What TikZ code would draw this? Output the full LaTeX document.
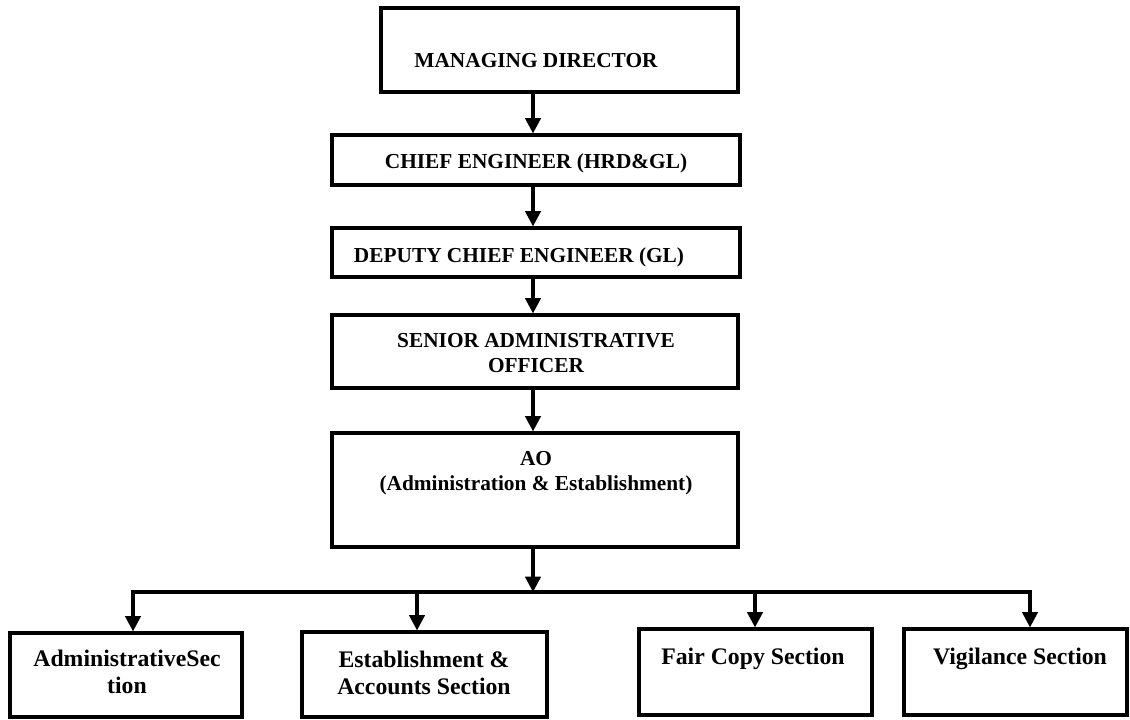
\documentclass[tikz,border=0pt]{standalone}
\usepackage{fontspec}
\setmainfont{Liberation Serif}
\usepackage{tikz}
\usetikzlibrary{arrows.meta}

\begin{document}
\begin{tikzpicture}
        [x=0.75pt,y=-0.75pt,
         box/.style={draw,line width=2.4pt,fill=white,rectangle,inner sep=0pt},
         lbl/.style={anchor=base,align=center,inner sep=0pt,
           font=\fontsize{16}{18.5}\selectfont\bfseries},
         lblb/.style={anchor=base,align=center,inner sep=0pt,
           font=\fontsize{17.8}{20}\selectfont\bfseries},
         arr/.style={line width=2.4pt,-{Triangle[length=11.5pt,width=11.5pt]}}]
        \useasboundingbox (0,0) rectangle (1130,719);

        \node[box,minimum width=357*0.75pt,minimum height=84*0.75pt] (md) at (559.5,50) {};
        \node[box,minimum width=408*0.75pt,minimum height=50*0.75pt] (ce) at (536,160) {};
        \node[box,minimum width=408*0.75pt,minimum height=49*0.75pt] (dce) at (536,252.5) {};
        \node[box,minimum width=406*0.75pt,minimum height=73*0.75pt] (sao) at (535,351.5) {};
        \node[box,minimum width=406*0.75pt,minimum height=114*0.75pt] (ao) at (535,490) {};

        \node[box,minimum width=232*0.75pt,minimum height=84*0.75pt] (adm) at (126,675) {};
        \node[box,minimum width=245*0.75pt,minimum height=85*0.75pt] (est) at (424.5,674.5) {};
        \node[box,minimum width=233*0.75pt,minimum height=86*0.75pt] (fcs) at (755.5,672) {};
        \node[box,minimum width=223*0.75pt,minimum height=86*0.75pt] (vig) at (1015.5,672) {};

        % texts (base = last line)
        \node[lbl] (mdtext) at (536,67) {MANAGING DIRECTOR};
        \node[lbl] (cetext) at (536,168) {CHIEF ENGINEER (HRD\&GL)};
        \node[lbl] (dcetext) at (519,262) {DEPUTY CHIEF ENGINEER (GL)};
        \node[lbl] (saotext) at (536,372) {SENIOR ADMINISTRATIVE\\OFFICER};
        \node[lbl] (aotext) at (536,490) {AO\\(Administration \& Establishment)};

        \node[lblb] (admtext) at (127,693) {AdministrativeSec\\tion};
        \node[lblb] (esttext) at (424,694) {Establishment \&\\Accounts Section};
        \node[lblb] (fcstext) at (753,664) {Fair Copy Section};
        \node[lblb] (vigtext) at (1020,664) {Vigilance Section};

        \coordinate (spine) at (533,0);
        \coordinate (bus) at (533,592);
        \coordinate (t1) at (133,592);
        \coordinate (t2) at (417,592);
        \coordinate (t3) at (755,592);
        \coordinate (t4) at (1030,592);

        \foreach \from/\to in {md/ce, ce/dce, dce/sao, sao/ao}
            \draw[arr] (\from.south -| spine) -- (\to.north -| spine);

        \draw[arr] (ao.south -| bus) -- (bus);
        \draw[arr] (bus) -- (t1) -- (t1 |- adm.north);
        \draw[arr] (bus) -- (t4) -- (t4 |- vig.north);
        \draw[arr] (t2) -- (t2 |- est.north);
        \draw[arr] (t3) -- (t3 |- fcs.north);

      \end{tikzpicture}
\end{document}
